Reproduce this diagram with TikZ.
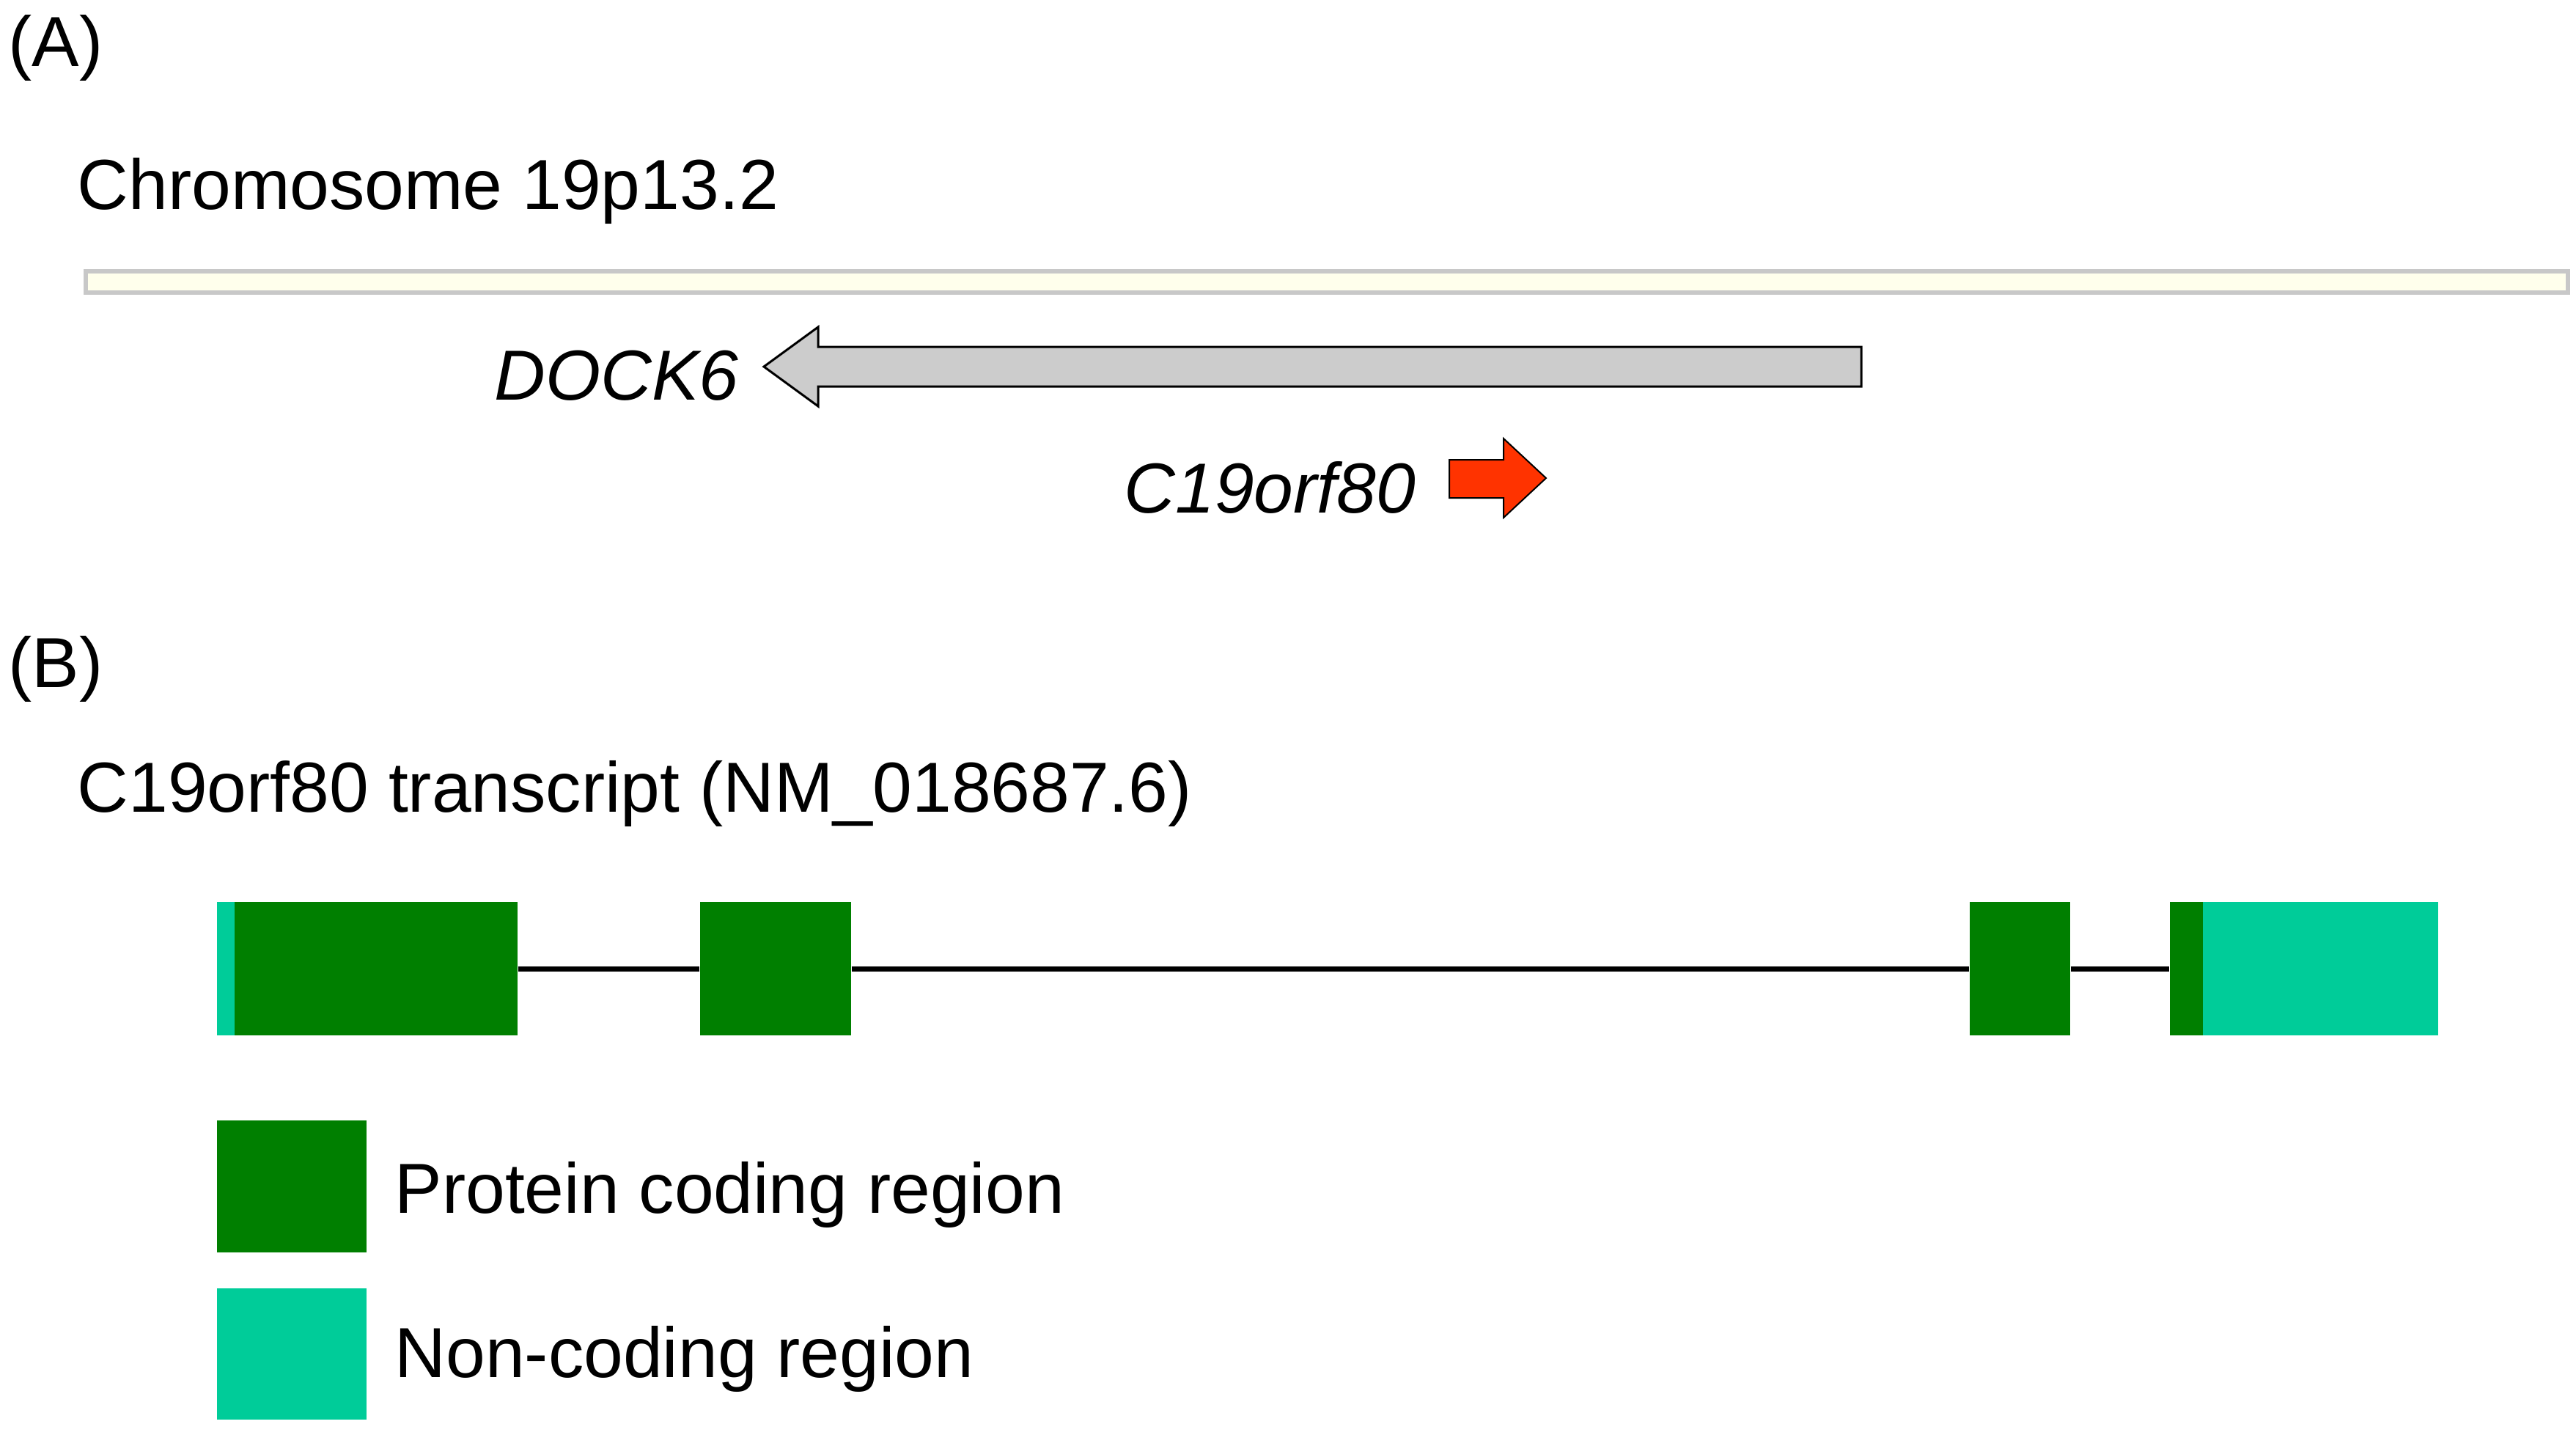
\documentclass[tikz,border=0pt]{standalone}
\usepackage{fontspec}
\setmainfont{Liberation Sans}
\definecolor{codgreen}{HTML}{007F00}
\definecolor{ncgreen}{HTML}{00CC99}
\definecolor{arrred}{HTML}{FF3300}
\definecolor{arrgray}{HTML}{CCCCCC}
\definecolor{chrfill}{HTML}{FFFFEC}
\definecolor{chrline}{HTML}{C8C8C8}
\tikzset{
  lbl/.style={inner sep=0pt, font=\fontsize{27.5}{33}\selectfont},
  gene/.style={inner sep=0pt, font=\fontsize{27.5}{33}\selectfont\itshape},
  exonc/.style={rectangle, inner sep=0pt, fill=codgreen, minimum height=1.82cm},
  exonn/.style={rectangle, inner sep=0pt, fill=ncgreen, minimum height=1.82cm},
  intron/.style={line width=0.07cm, black},
}
\begin{document}
\begin{tikzpicture}[x=1cm,y=-1cm]
\path[use as bounding box] (0,0) rectangle (35.14,19.56);
% panel A
\node[lbl, anchor=base west] (labA) at (0.11,0.90) {(A)};
\node[lbl, anchor=base west] (chrtitle) at (1.05,2.85) {Chromosome 19p13.2};
\draw[chrline, fill=chrfill, line width=0.06cm] (1.17,3.70) rectangle (35.03,3.99);
\draw[black, fill=arrgray, line width=0.03cm]
  (25.39,4.73) -- (11.16,4.73) -- (11.16,4.46) -- (10.42,5.00) -- (11.16,5.54)
  -- (11.16,5.27) -- (25.39,5.27) -- cycle;
\node[gene, anchor=base east] (dock6) at (10.08,5.45) {DOCK6};
\draw[black, fill=arrred, line width=0.02cm]
  (19.77,6.27) -- (20.51,6.27) -- (20.51,5.98) -- (21.09,6.52) -- (20.51,7.06)
  -- (20.51,6.79) -- (19.77,6.79) -- cycle;
\node[gene, anchor=base east] (c19) at (19.32,6.99) {C19orf80};
% panel B
\node[lbl, anchor=base west] (labB) at (0.11,9.37) {(B)};
\node[lbl, anchor=base west] (trtitle) at (1.05,11.07) {C19orf80 transcript (NM\_018687.6)};
\node[exonn, minimum width=0.24cm] (e1n) at (3.08,13.21) {};
\node[exonc, minimum width=3.86cm] (e1) at (5.13,13.21) {};
\node[exonc, minimum width=2.06cm] (e2) at (10.58,13.21) {};
\node[exonc, minimum width=1.37cm] (e3) at (27.555,13.21) {};
\node[exonc, minimum width=0.45cm] (e4) at (29.825,13.21) {};
\node[exonn, minimum width=3.21cm] (e4n) at (31.655,13.21) {};
\draw[intron] (e1.east) -- (e2.west);
\draw[intron] (e2.east) -- (e3.west);
\draw[intron] (e3.east) -- (e4.west);
% legend
\node[exonc, minimum width=2.04cm, minimum height=1.80cm] (legc) at (3.98,16.18) {};
\node[exonn, minimum width=2.04cm, minimum height=1.79cm] (legn) at (3.98,18.465) {};
\node[lbl, anchor=base west] (legctext) at (5.38,16.54) {Protein coding region};
\node[lbl, anchor=base west] (legntext) at (5.38,18.78) {Non-coding region};
\end{tikzpicture}
\end{document}
